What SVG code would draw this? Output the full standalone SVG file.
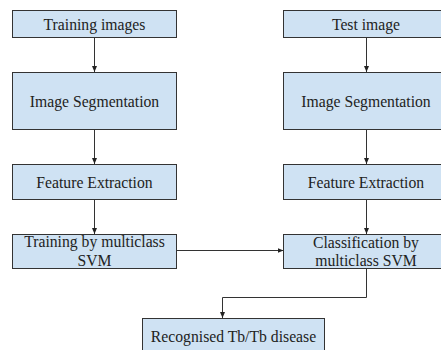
<svg xmlns="http://www.w3.org/2000/svg" width="441" height="350" viewBox="0 0 441 350">
  <defs>
    <style>
      .box { fill: #cfe2f3; stroke: #333333; stroke-width: 1; }
      .lbl { font-size: 15.7px; fill: #222222; text-anchor: middle; }
      .edge { fill: none; stroke: #333333; stroke-width: 1; }
    </style>
    <marker id="arrow" viewBox="0 0 6 6" refX="6" refY="3" markerWidth="6" markerHeight="6" markerUnits="userSpaceOnUse" orient="auto">
      <path d="M0,0.5 L6,3 L0,5.5 Z" fill="#222222"/>
    </marker>
  </defs>
  <rect width="441" height="350" fill="#ffffff"/>

  <!-- connectors -->
  <g id="connectors">
    <path class="edge" d="M94.5,37 V72" marker-end="url(#arrow)"/>
    <path class="edge" d="M94.5,129 V164" marker-end="url(#arrow)"/>
    <path class="edge" d="M94.5,199 V234" marker-end="url(#arrow)"/>
    <path class="edge" d="M366.5,37 V72" marker-end="url(#arrow)"/>
    <path class="edge" d="M366.5,129 V164" marker-end="url(#arrow)"/>
    <path class="edge" d="M366.5,199 V234" marker-end="url(#arrow)"/>
    <path class="edge" d="M176,250.5 H283.5" marker-end="url(#arrow)"/>
    <path class="edge" d="M366.5,268 V297.5 H222.5 V318" marker-end="url(#arrow)"/>
  </g>

  <g font-family="'Liberation Serif', 'DejaVu Serif', 'Times New Roman', serif">
    <!-- training branch -->
    <g id="training-images">
      <rect class="box" x="12.5" y="10.5" width="164" height="27"/>
      <text class="lbl" x="94.5" y="29.5">Training images</text>
    </g>
    <g id="train-segmentation">
      <rect class="box" x="12.5" y="72.5" width="164" height="57"/>
      <text class="lbl" x="94.5" y="106.5">Image Segmentation</text>
    </g>
    <g id="train-features">
      <rect class="box" x="12.5" y="164.5" width="164" height="35"/>
      <text class="lbl" x="94.5" y="187.5">Feature Extraction</text>
    </g>
    <g id="train-svm">
      <rect class="box" x="12.5" y="234.5" width="164" height="34"/>
      <text class="lbl" x="94.5" y="247">Training by multiclass</text>
      <text class="lbl" x="94.5" y="265.5">SVM</text>
    </g>

    <!-- test branch -->
    <g id="test-image">
      <rect class="box" x="283.5" y="10.5" width="166" height="27"/>
      <text class="lbl" x="366" y="29.5">Test image</text>
    </g>
    <g id="test-segmentation">
      <rect class="box" x="283.5" y="72.5" width="166" height="57"/>
      <text class="lbl" x="366" y="106.5">Image Segmentation</text>
    </g>
    <g id="test-features">
      <rect class="box" x="283.5" y="164.5" width="166" height="35"/>
      <text class="lbl" x="366" y="187.5">Feature Extraction</text>
    </g>
    <g id="classification">
      <rect class="box" x="283.5" y="234.5" width="166" height="34"/>
      <text class="lbl" x="366" y="247.5">Classification by</text>
      <text class="lbl" x="366" y="265.5">multiclass SVM</text>
    </g>

    <!-- result -->
    <g id="result">
      <rect class="box" x="142.5" y="318.5" width="182" height="40"/>
      <text class="lbl" x="233.5" y="341.5">Recognised Tb/Tb disease</text>
    </g>
  </g>
</svg>
